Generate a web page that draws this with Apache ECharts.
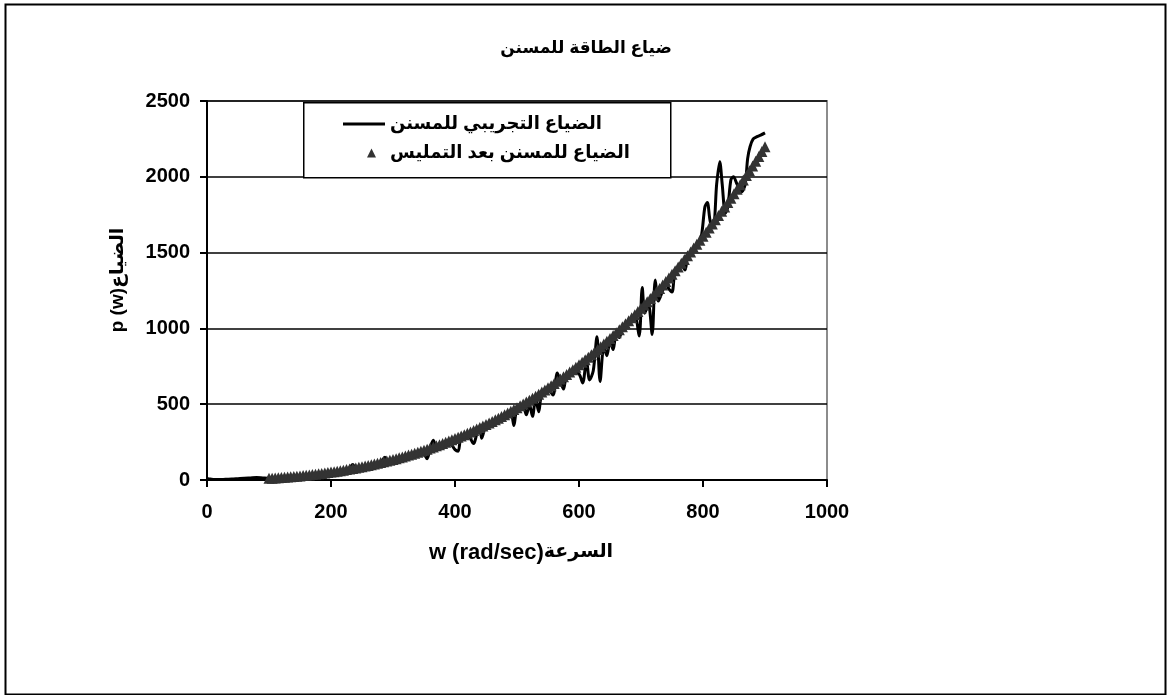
<!DOCTYPE html>
<html>
<head>
<meta charset="utf-8">
<script src="https://cdn.jsdelivr.net/npm/echarts@6/dist/echarts.min.js"></script>
<style>
  html, body { margin: 0; padding: 0; background: #ffffff; }
  #chart { width: 1168px; height: 695px; }
</style>
</head>
<body>
<div id="chart"></div>
<script>
// Measured power loss of the gear (black line)
const expW = [0, 5, 10, 20, 30, 40, 50, 60, 70, 80, 90, 100, 110, 120, 130, 140, 150, 160, 170, 180, 190,
  200, 210, 220, 230, 235, 240, 250, 260, 270, 280, 287, 292, 300, 310, 320, 330, 340, 350, 355, 360,
  365, 370, 380, 390, 400, 405, 410, 420, 430, 435, 440, 443, 450, 460, 470, 480, 490, 495, 500, 510,
  515, 520, 525, 530, 535, 540, 550, 558, 565, 570, 575, 580, 590, 600, 606, 612, 617, 623, 629, 634,
  640, 645, 650, 655, 660, 665, 670, 680, 690, 697, 702, 706, 712, 718, 723, 728, 735, 740, 745, 750,
  755, 760, 765, 771, 775, 780, 790, 797, 803, 807, 812, 817, 822, 827, 831, 836, 840, 845, 849, 855,
  862, 868, 872, 876, 881, 887, 893, 900];
const expP = [10, 6, 4, 3, 5, 6, 9, 12, 14, 16, 14, 12, 14, 16, 19, 24, 26, 32, 35, 42, 45,
  53, 57, 66, 80, 102, 78, 86, 95, 104, 116, 150, 118, 133, 147, 157, 168, 180, 170, 140, 210,
  262, 220, 238, 250, 200, 190, 285, 300, 240, 300, 340, 275, 360, 380, 400, 420, 440, 360, 470, 480,
  430, 500, 420, 540, 450, 570, 600, 560, 705, 650, 600, 690, 720, 700, 640, 790, 660, 720, 945, 650,
  880, 820, 920, 860, 960, 940, 1000, 1040, 1080, 950, 1270, 1100, 1160, 960, 1320, 1180, 1250, 1300, 1260, 1240,
  1390, 1400, 1420, 1385, 1470, 1500, 1550, 1600, 1800, 1830, 1700, 1690, 1950, 2100, 1950, 1760, 1800, 1980, 2000, 1950,
  1900, 1950, 2120, 2200, 2250, 2265, 2275, 2290];

// Gear loss after smoothing (grey triangles)
const fitW = [100, 105, 110, 115, 120, 125, 130, 135, 140, 145,
  150, 155, 160, 165, 170, 175, 180, 185, 190, 195,
  200, 205, 210, 215, 220, 225, 230, 235, 240, 245,
  250, 255, 260, 265, 270, 275, 280, 285, 290, 295,
  300, 305, 310, 315, 320, 325, 330, 335, 340, 345,
  350, 355, 360, 365, 370, 375, 380, 385, 390, 395,
  400, 405, 410, 415, 420, 425, 430, 435, 440, 445,
  450, 455, 460, 465, 470, 475, 480, 485, 490, 495,
  500, 505, 510, 515, 520, 525, 530, 535, 540, 545,
  550, 555, 560, 565, 570, 575, 580, 585, 590, 595,
  600, 605, 610, 615, 620, 625, 630, 635, 640, 645,
  650, 655, 660, 665, 670, 675, 680, 685, 690, 695,
  700, 705, 710, 715, 720, 725, 730, 735, 740, 745,
  750, 755, 760, 765, 770, 775, 780, 785, 790, 795,
  800, 805, 810, 815, 820, 825, 830, 835, 840, 845,
  850, 855, 860, 865, 870, 875, 880, 885, 890, 895, 900];
const fitP = [11.0, 12.3, 13.6, 15.0, 16.4, 18.0, 19.6, 21.4, 23.2, 25.1,
  27.1, 29.1, 31.3, 33.6, 35.9, 38.4, 40.9, 43.6, 46.3, 49.2,
  52.1, 55.2, 58.4, 61.6, 65.0, 68.5, 72.1, 75.9, 79.7, 83.7,
  87.8, 92.0, 96.3, 100.7, 105.3, 110.0, 114.8, 119.8, 124.9, 130.1,
  135.4, 140.9, 146.5, 152.3, 158.2, 164.3, 170.5, 176.8, 183.3, 189.9,
  196.7, 203.6, 210.7, 217.9, 225.3, 232.9, 240.6, 248.4, 256.5, 264.7,
  273.0, 281.5, 290.2, 299.1, 308.1, 317.3, 326.7, 336.2, 346.0, 355.9,
  366.0, 376.2, 386.7, 397.3, 408.1, 419.1, 430.3, 441.7, 453.3, 465.0,
  477.0, 489.2, 501.5, 514.1, 526.8, 539.8, 552.9, 566.3, 579.9, 593.7,
  607.7, 621.9, 636.3, 650.9, 665.8, 680.8, 696.1, 711.6, 727.3, 743.3,
  759.5, 775.9, 792.5, 809.3, 826.4, 843.7, 861.3, 879.1, 897.1, 915.4,
  933.9, 952.6, 971.6, 990.9, 1010.3, 1030.1, 1050.1, 1070.3, 1090.8, 1111.5,
  1132.5, 1153.7, 1175.2, 1197.0, 1219.0, 1241.3, 1263.9, 1286.7, 1309.8, 1333.1,
  1356.8, 1380.6, 1404.8, 1429.3, 1454.0, 1479.0, 1504.2, 1529.8, 1555.6, 1581.8,
  1608.2, 1634.9, 1661.9, 1689.1, 1716.8, 1744.6, 1772.8, 1801.2, 1830.0, 1859.0,
  1888.4, 1918.0, 1947.9, 1978.2, 2008.7, 2039.6, 2070.6, 2102.3, 2133.9, 2166.2, 2198.7];

const seriesNames = ['الضياع التجريبي للمسنن', 'الضياع للمسنن بعد التمليس'];
const titleText = 'ضياع الطاقة للمسنن';
const xNameLatin = 'w (rad/sec)';
const xNameArabic = 'السرعة';
const yName = 'p (w)الضياع';

const FONT = '"Liberation Sans", Arial, "DejaVu Sans", sans-serif';
const legendText = { color: '#000', fontSize: 18, fontWeight: 'bold', fontFamily: FONT };

const chart = echarts.init(document.getElementById('chart'), null, { renderer: 'canvas' });

const plainNumber = v => String(v);

chart.setOption({
  animation: false,
  backgroundColor: '#ffffff',
  textStyle: { fontFamily: FONT },
  grid: {
    left: 207, top: 101, width: 620, height: 379,
    show: true, borderColor: '#8c8c8c', borderWidth: 2, backgroundColor: 'transparent'
  },
  xAxis: {
    type: 'value', min: 0, max: 1000, interval: 200,
    axisLine: { show: true, lineStyle: { color: '#000', width: 2 } },
    axisTick: { show: true, inside: false, length: 7, lineStyle: { color: '#000', width: 2 } },
    axisLabel: { color: '#000', fontSize: 20, fontWeight: 'bold', fontFamily: FONT, margin: 22, formatter: plainNumber },
    splitLine: { show: false }
  },
  yAxis: {
    type: 'value', min: 0, max: 2500, interval: 500,
    axisLine: { show: true, lineStyle: { color: '#000', width: 2 } },
    axisTick: { show: true, inside: false, length: 7, lineStyle: { color: '#000', width: 2 } },
    axisLabel: { color: '#000', fontSize: 20, fontWeight: 'bold', fontFamily: FONT, margin: 17, formatter: plainNumber },
    splitLine: { show: true, lineStyle: { color: '#000', width: 1.5 } }
  },
  legend: [
    {
      orient: 'vertical', left: 343, top: 115, z: 10, padding: 0,
      itemWidth: 42, itemHeight: 3, icon: 'rect',
      textStyle: legendText,
      data: [{ name: seriesNames[0], itemStyle: { color: '#000' } }],
      selectedMode: false
    },
    {
      orient: 'vertical', left: 367, top: 144, z: 10, padding: 0,
      itemWidth: 9, itemHeight: 9, icon: 'triangle',
      textStyle: Object.assign({ padding: [0, 0, 0, 9] }, legendText),
      data: [{ name: seriesNames[1], itemStyle: { color: '#333' } }],
      selectedMode: false
    }
  ],
  graphic: [
    { type: 'rect', left: 3, top: 2, z: 1, shape: { width: 1160, height: 690 },
      style: { fill: 'none', stroke: '#000', lineWidth: 2 }, silent: true },
    { type: 'rect', left: 303, top: 102, z: 5, shape: { width: 367, height: 75 },
      style: { fill: '#fff', stroke: '#000', lineWidth: 1.5 }, silent: true },
    { type: 'text', x: 586, y: 48, z: 5,
      style: { text: titleText, fill: '#000', font: 'bold 17px ' + FONT, align: 'center', verticalAlign: 'middle' } },
    { type: 'text', x: 521, y: 553, z: 5,
      style: {
        text: '{a|' + xNameLatin + '}{b|' + xNameArabic + '}',
        align: 'center', verticalAlign: 'middle',
        rich: {
          a: { fill: '#000', fontSize: 22, fontWeight: 'bold', fontFamily: FONT },
          b: { fill: '#000', fontSize: 19, fontWeight: 'bold', fontFamily: FONT, verticalAlign: 'top' }
        }
      } },
    { type: 'text', x: 118, y: 280, rotation: Math.PI / 2, z: 5,
      style: { text: yName, fill: '#000', font: 'bold 19px ' + FONT, align: 'center', verticalAlign: 'middle' } }
  ],
  series: [
    {
      name: seriesNames[0], type: 'line', smooth: 0.3, symbol: 'none', z: 2,
      lineStyle: { color: '#000', width: 3 }, itemStyle: { color: '#000' },
      data: expW.map((w, i) => [w, expP[i]])
    },
    {
      name: seriesNames[1], type: 'scatter', symbol: 'triangle', symbolSize: 11, z: 3,
      itemStyle: { color: '#333333', opacity: 1 },
      data: fitW.map((w, i) => [w, fitP[i]])
    }
  ]
});
</script>
</body>
</html>
